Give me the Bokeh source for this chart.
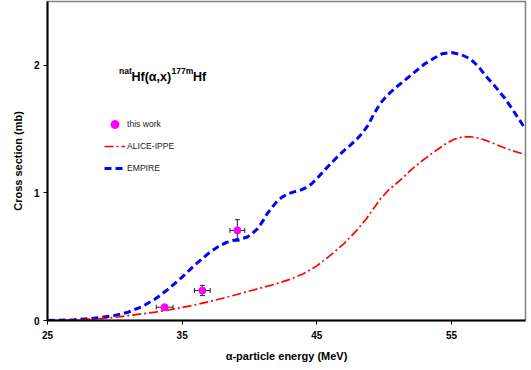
from bokeh.plotting import figure
from bokeh.models import (ColumnDataSource, Range1d, Whisker, TeeHead, Label,
                          Legend, LegendItem, FixedTicker)
from bokeh.embed import file_html
from bokeh.resources import INLINE

# ---- data ----
empire_energy = [25, 26, 27, 28, 29, 30, 31, 32, 33, 34, 35, 36, 37, 37.7, 38.3,
                 38.8, 39.3, 39.8, 40.2, 40.6, 41.0, 41.3, 41.7, 42.0, 42.4, 42.8,
                 43.3, 43.8, 44.2, 44.6, 45.0, 45.5, 46.0, 46.5, 47.0, 47.5, 48.0,
                 48.4, 48.8, 49.2, 49.7, 50.2, 50.8, 51.5, 52.2, 53.0, 53.7, 54.3,
                 55.0, 55.7, 56.4, 57.0, 57.6, 58.2, 58.9, 59.5, 60.0, 60.5]
empire_xs = [0.0, 0.002, 0.006, 0.013, 0.024, 0.04, 0.065, 0.108, 0.168, 0.248,
             0.34, 0.44, 0.53, 0.58, 0.612, 0.627, 0.638, 0.652, 0.68, 0.72, 0.78,
             0.835, 0.89, 0.928, 0.965, 0.99, 1.008, 1.022, 1.042, 1.07, 1.11, 1.17,
             1.225, 1.28, 1.33, 1.375, 1.425, 1.47, 1.53, 1.61, 1.70, 1.76, 1.82,
             1.88, 1.94, 2.01, 2.055, 2.09, 2.10, 2.085, 2.05, 1.99, 1.91, 1.84,
             1.75, 1.66, 1.58, 1.50]

alice_energy = [25, 27, 29, 30, 31, 32, 33, 34, 35, 36, 37, 38, 39, 40, 41, 42, 43,
                44, 45, 46, 47, 48, 48.7, 49.3, 49.7, 50.3, 51.2, 52.0, 52.8, 53.7,
                54.5, 55.2, 55.8, 56.4, 57.0, 57.6, 58.3, 59.0, 59.7, 60.5]
alice_xs = [0.0, 0.003, 0.015, 0.025, 0.038, 0.052, 0.066, 0.082, 0.102, 0.124,
            0.148, 0.174, 0.202, 0.231, 0.259, 0.288, 0.322, 0.366, 0.428, 0.51,
            0.60, 0.71, 0.80, 0.89, 0.95, 1.02, 1.10, 1.18, 1.25, 1.32, 1.38,
            1.42, 1.438, 1.44, 1.43, 1.41, 1.38, 1.35, 1.325, 1.30]

exp_energy = [33.7, 36.5, 39.1]
exp_energy_err = [0.62, 0.58, 0.55]
exp_xs = [0.104, 0.235, 0.706]
exp_xs_err = [0.015, 0.04, 0.084]

x_ticks = [25, 35, 45, 55]
y_ticks = [0, 1, 2]

FONT = "Liberation Sans"

p = figure(width=531, height=370, output_backend="svg", toolbar_location=None,
           x_range=Range1d(25, 60.5), y_range=Range1d(0, 2.5),
           min_border_left=47, min_border_right=6, min_border_top=1,
           min_border_bottom=50)
p.background_fill_color = "white"
p.border_fill_color = "white"
p.outline_line_color = "#808080"
p.outline_line_width = 1.5
p.grid.visible = False

for ax in (p.xaxis[0], p.yaxis[0]):
    ax.axis_line_color = "black"
    ax.axis_line_width = 2
    ax.major_tick_line_color = "black"
    ax.major_tick_line_width = 1
    ax.major_tick_out = 4
    ax.major_tick_in = 0
    ax.minor_tick_line_color = None
    ax.major_label_text_font = FONT
    ax.major_label_text_font_style = "bold"
    ax.major_label_text_font_size = "10px"
    ax.major_label_text_color = "black"
    ax.axis_label_text_font = FONT
    ax.axis_label_text_font_style = "bold"
    ax.axis_label_text_font_size = "11px"
    ax.axis_label_text_color = "black"

p.xaxis.ticker = FixedTicker(ticks=x_ticks)
p.yaxis.ticker = FixedTicker(ticks=y_ticks)
p.xaxis.axis_label = "α-particle energy (MeV)"
p.yaxis.axis_label = "Cross section (mb)"
p.xaxis.major_label_standoff = 6
p.xaxis.axis_label_standoff = 8
p.yaxis.major_label_standoff = 4
p.yaxis.axis_label_standoff = 7

empire = p.line(empire_energy, empire_xs, line_color="#0000FF", line_width=3,
                line_dash="7 4")
alice = p.line(alice_energy, alice_xs, line_color="#FF0000", line_width=1.7,
               line_dash="9 3 2 3")

src = ColumnDataSource(dict(
    x=exp_energy, y=exp_xs,
    xl=[a - b for a, b in zip(exp_energy, exp_energy_err)],
    xu=[a + b for a, b in zip(exp_energy, exp_energy_err)],
    yl=[a - b for a, b in zip(exp_xs, exp_xs_err)],
    yu=[a + b for a, b in zip(exp_xs, exp_xs_err)],
))
for dim, base, lo, up in (("width", "y", "xl", "xu"), ("height", "x", "yl", "yu")):
    w = Whisker(source=src, base=base, lower=lo, upper=up, dimension=dim,
                line_color="#222222", line_width=1,
                lower_head=TeeHead(size=5, line_color="#222222", line_width=1),
                upper_head=TeeHead(size=5, line_color="#222222", line_width=1))
    p.add_layout(w)
pts = p.scatter("x", "y", source=src, size=7, color="#FF00FF")

legend = Legend(items=[LegendItem(label="this work", renderers=[pts]),
                       LegendItem(label="ALICE-IPPE", renderers=[alice]),
                       LegendItem(label="EMPIRE", renderers=[empire])],
                location=(57, 142), orientation="vertical",
                background_fill_alpha=0, border_line_color=None,
                padding=0, margin=0, spacing=2, glyph_width=21, glyph_height=20,
                label_standoff=2, label_text_font=FONT,
                label_text_font_size="8.6px", label_text_color="#222222")
p.add_layout(legend, "center")

# reaction title made of fragments (screen units relative to the frame)
frame_left, frame_bottom = 47, 320
frags = [("nat", 118.5, 70.0, "8.5px"), ("Hf(α,x)", 131.0, 76.7, "12.5px"),
         ("177m", 171.0, 70.0, "8.5px"), ("Hf", 192.5, 76.7, "12.5px")]
for txt, px, py, fs in frags:
    p.add_layout(Label(x=px - frame_left, y=frame_bottom - py, x_units="screen",
                       y_units="screen", text=txt, text_font=FONT,
                       text_font_style="bold", text_font_size=fs,
                       text_color="black", text_baseline="alphabetic",
                       text_align="left"))

open("out.html", "w").write(file_html(p, INLINE))
